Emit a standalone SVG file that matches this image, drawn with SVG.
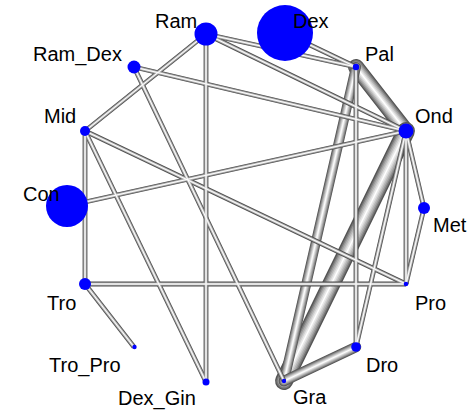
<svg xmlns="http://www.w3.org/2000/svg" xmlns:xlink="http://www.w3.org/1999/xlink" width="468" height="414" viewBox="0 0 468 414">
<style>
.lbl{font-family:"Liberation Sans",Arial,sans-serif;font-size:20px;fill:#000}
.n{fill:#0000ff}
.t1{stroke:#4a4a4a;stroke-width:4.8;fill:none}
.t2{stroke:#8c8c8c;stroke-width:3.5;fill:none}
.t3{stroke:#c8c8c8;stroke-width:2.2;fill:none}
.t4{stroke:#ffffff;stroke-width:1;fill:none}
.k{fill:none;stroke-linecap:round}
</style>
<defs>
<g id="thin">
<line x1="206" y1="34" x2="356" y2="67"/>
<line x1="206" y1="34" x2="406" y2="131"/>
<line x1="285" y1="33" x2="356" y2="67"/>
<line x1="206" y1="34" x2="85" y2="131"/>
<line x1="206" y1="34" x2="206" y2="382"/>
<line x1="134" y1="67" x2="406" y2="131"/>
<line x1="134" y1="67" x2="284" y2="381"/>
<line x1="85" y1="131" x2="85" y2="284"/>
<line x1="85" y1="131" x2="406" y2="284"/>
<line x1="85" y1="131" x2="206" y2="382"/>
<line x1="67" y1="206" x2="406" y2="131"/>
<line x1="85" y1="284" x2="406" y2="284"/>
<line x1="85" y1="284" x2="134" y2="347"/>
<line x1="356" y1="67" x2="356" y2="347"/>
<line x1="406" y1="131" x2="356" y2="347"/>
<line x1="406" y1="131" x2="406" y2="284"/>
<line x1="406" y1="131" x2="424" y2="208"/>
<line x1="424" y1="208" x2="406" y2="284"/>
</g>
<line id="pal-ond" x1="356" y1="67" x2="406" y2="131"/>
<line id="ond-gra" x1="406" y1="131" x2="284" y2="381"/>
<line id="pal-gra" x1="356" y1="67" x2="284" y2="381"/>
<line id="gra-dro" x1="284" y1="381" x2="356" y2="347"/>
</defs>
<g id="connectors">
<g id="thick-pal-ond" class="k">
<use href="#pal-ond" stroke="#555" stroke-width="16"/>
<use href="#pal-ond" stroke="#777" stroke-width="13.6"/>
<use href="#pal-ond" stroke="#999" stroke-width="11.2"/>
<use href="#pal-ond" stroke="#b5b5b5" stroke-width="8.8"/>
<use href="#pal-ond" stroke="#d0d0d0" stroke-width="6.3"/>
<use href="#pal-ond" stroke="#e8e8e8" stroke-width="3.8"/>
<use href="#pal-ond" stroke="#fff" stroke-width="1.4"/>
</g>
<g id="thick-ond-gra" class="k">
<use href="#ond-gra" stroke="#555" stroke-width="18"/>
<use href="#ond-gra" stroke="#777" stroke-width="15.3"/>
<use href="#ond-gra" stroke="#999" stroke-width="12.6"/>
<use href="#ond-gra" stroke="#b5b5b5" stroke-width="9.9"/>
<use href="#ond-gra" stroke="#d0d0d0" stroke-width="7.1"/>
<use href="#ond-gra" stroke="#e8e8e8" stroke-width="4.3"/>
<use href="#ond-gra" stroke="#fff" stroke-width="1.5"/>
</g>
<g id="thick-pal-gra" class="k">
<use href="#pal-gra" stroke="#555" stroke-width="10"/>
<use href="#pal-gra" stroke="#777" stroke-width="8.5"/>
<use href="#pal-gra" stroke="#999" stroke-width="7"/>
<use href="#pal-gra" stroke="#b5b5b5" stroke-width="5.4"/>
<use href="#pal-gra" stroke="#d0d0d0" stroke-width="3.8"/>
<use href="#pal-gra" stroke="#e8e8e8" stroke-width="2.3"/>
<use href="#pal-gra" stroke="#fff" stroke-width="0.9"/>
</g>
<g id="thick-gra-dro" class="k">
<use href="#gra-dro" stroke="#555" stroke-width="10.5"/>
<use href="#gra-dro" stroke="#777" stroke-width="8.9"/>
<use href="#gra-dro" stroke="#999" stroke-width="7.3"/>
<use href="#gra-dro" stroke="#b5b5b5" stroke-width="5.7"/>
<use href="#gra-dro" stroke="#d0d0d0" stroke-width="4"/>
<use href="#gra-dro" stroke="#e8e8e8" stroke-width="2.4"/>
<use href="#gra-dro" stroke="#fff" stroke-width="0.9"/>
</g>
<use href="#thin" class="t1"/>
<use href="#thin" class="t2"/>
<use href="#thin" class="t3"/>
<use href="#thin" class="t4"/>
</g>
<g id="node-Ram"><circle class="n" cx="206" cy="34" r="11.5"/><text class="lbl" x="155" y="28">Ram</text></g>
<g id="node-Dex"><circle class="n" cx="285" cy="33" r="28"/><text class="lbl" x="293" y="28">Dex</text></g>
<g id="node-Pal"><circle class="n" cx="356" cy="67" r="3.2"/><text class="lbl" x="365" y="61">Pal</text></g>
<g id="node-Ond"><circle class="n" cx="406" cy="131" r="7.5"/><text class="lbl" x="415" y="123">Ond</text></g>
<g id="node-Met"><circle class="n" cx="424" cy="208" r="6"/><text class="lbl" x="433" y="232">Met</text></g>
<g id="node-Pro"><circle class="n" cx="406" cy="284" r="2.3"/><text class="lbl" x="415" y="310">Pro</text></g>
<g id="node-Dro"><circle class="n" cx="356" cy="347" r="4.8"/><text class="lbl" x="366" y="372">Dro</text></g>
<g id="node-Gra"><circle class="n" cx="284" cy="381" r="2.2"/><text class="lbl" x="293" y="404">Gra</text></g>
<g id="node-Dex_Gin"><circle class="n" cx="206" cy="382" r="3.5"/><text class="lbl" x="118" y="405">Dex_Gin</text></g>
<g id="node-Tro_Pro"><circle class="n" cx="134.5" cy="347" r="2.2"/><text class="lbl" x="49" y="372">Tro_Pro</text></g>
<g id="node-Tro"><circle class="n" cx="85" cy="284" r="6"/><text class="lbl" x="47" y="310">Tro</text></g>
<g id="node-Con"><circle class="n" cx="67" cy="206" r="21"/><text class="lbl" x="23" y="201">Con</text></g>
<g id="node-Mid"><circle class="n" cx="85" cy="131" r="5"/><text class="lbl" x="44" y="123">Mid</text></g>
<g id="node-Ram_Dex"><circle class="n" cx="134" cy="67" r="6.5"/><text class="lbl" x="33" y="61">Ram_Dex</text></g>
</svg>
